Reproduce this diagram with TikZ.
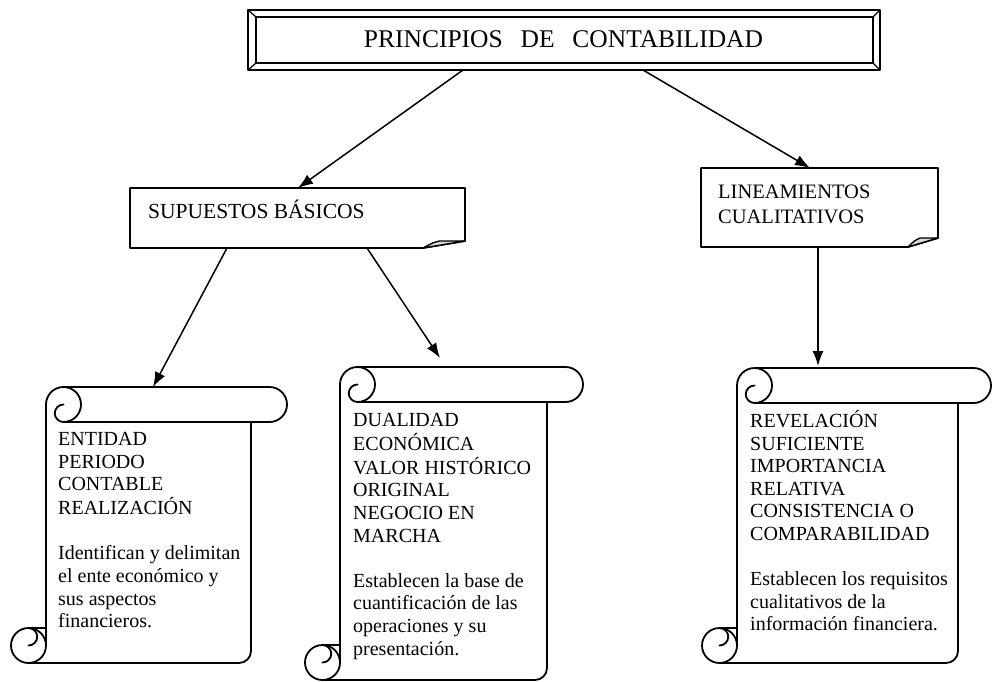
\documentclass[tikz,border=0pt]{standalone}
\usepackage{fontspec}
\setmainfont{Liberation Serif}
\usetikzlibrary{arrows.meta}
\tikzset{
  outline/.style={line width=1.8pt, line join=round, line cap=round},
  conn/.style={line width=1.5pt, -{Latex[length=15pt,width=11pt]}},
  bodytext/.style={anchor=base west, inner sep=0pt, font=\fontsize{20}{22.6}\selectfont},
}
\newcommand{\drawscroll}[6]{%
  \pgfmathsetmacro\scXL{#1}%
  \pgfmathsetmacro\scXR{#2}%
  \pgfmathsetmacro\scXE{#3}%
  \pgfmathsetmacro\scYT{#4}%
  \pgfmathsetmacro\scR{#5/2}%
  \pgfmathsetmacro\scYB{#6}%
  \pgfmathsetmacro\scK{0.5523*\scR}%
  \pgfmathsetmacro\scYM{\scYT+2*\scR}%
  \pgfmathsetmacro\scH{\scR/2}%
  \pgfmathsetmacro\scHK{0.5523*\scH}%
  \draw[outline] (\scXL+\scR,\scYT) -- (\scXE-\scR,\scYT)
    .. controls (\scXE-\scR+\scK,\scYT) and (\scXE,\scYT+\scR-\scK) .. (\scXE,\scYT+\scR)
    .. controls (\scXE,\scYT+\scR+\scK) and (\scXE-\scR+\scK,\scYM) .. (\scXE-\scR,\scYM)
    -- (\scXL+\scR,\scYM);
  \draw[outline] (\scXL+\scR,\scYT)
    .. controls (\scXL+\scR+\scK,\scYT) and (\scXL+2*\scR,\scYT+\scR-\scK) .. (\scXL+2*\scR,\scYT+\scR)
    .. controls (\scXL+2*\scR,\scYT+\scR+\scK) and (\scXL+\scR+\scK,\scYM) .. (\scXL+\scR,\scYM);
  \draw[outline] (\scXL+\scR,\scYT+\scR)
    .. controls (\scXL+\scR-\scHK,\scYT+\scR) and (\scXL+\scR-\scH,\scYT+1.5*\scR-\scHK) .. (\scXL+\scR-\scH,\scYT+1.5*\scR)
    .. controls (\scXL+\scR-\scH,\scYT+1.5*\scR+\scHK) and (\scXL+\scR-\scHK,\scYM) .. (\scXL+\scR,\scYM);
  \draw[outline] (\scXL+\scR,\scYT)
    .. controls (\scXL+\scR-\scK,\scYT) and (\scXL,\scYT+\scR-\scK) .. (\scXL,\scYT+\scR)
    -- (\scXL,\scYB-\scR);
  \draw[outline] (\scXR,\scYM) [rounded corners=12pt] -- (\scXR,\scYB) -- (\scXL-\scR,\scYB);
  \draw[outline] (\scXL-\scR,\scYB-\scR) circle[radius=\scR];
  \draw[outline] (\scXL-\scR,\scYB-2*\scR) -- (\scXL,\scYB-2*\scR);
  \draw[outline] (\scXL-\scR,\scYB-2*\scR)
    .. controls (\scXL-\scR+\scHK,\scYB-2*\scR) and (\scXL-\scH,\scYB-1.5*\scR-\scHK) .. (\scXL-\scH,\scYB-1.5*\scR)
    .. controls (\scXL-\scH,\scYB-1.5*\scR+\scHK) and (\scXL-\scR+\scHK,\scYB-\scR) .. (\scXL-\scR,\scYB-\scR);
}
\newcommand{\foldbox}[6]{%
  \draw[outline] (#1,#2) -- (#3,#2) -- (#3,#4-#6) -- (#3-#5,#4) -- (#1,#4) -- cycle;
  \draw[line width=1.4pt, line join=round, fill=black!15] (#3-#5,#4) .. controls (#3-#5+0.25*#5,#4-0.8*#6) .. (#3-#5+0.4*#5,#4-#6) -- (#3,#4-#6) -- cycle;
}
\begin{document}
\begin{tikzpicture}[x=1pt,y=-1pt]
\useasboundingbox (0,0) rectangle (993,682);

% title bevel box
\draw[outline] (248,10) rectangle (880,70);
\draw[line width=1.4pt] (256,17) rectangle (873,63);
\draw[line width=1.2pt] (248,10) -- (256,17) (880,10) -- (873,17) (248,70) -- (256,63) (880,70) -- (873,63);
\node[anchor=base, inner sep=0pt, font=\fontsize{25.5}{30}\selectfont] (title) at (563.5,48)
  {PRINCIPIOS\hspace{0.7em}DE\hspace{0.7em}CONTABILIDAD};

% second level boxes
\foldbox{130}{188}{465}{248}{42}{7}
\node[anchor=base west, inner sep=0pt, font=\fontsize{21.5}{25}\selectfont] (sup) at (148,218) {SUPUESTOS BÁSICOS};

\foldbox{701}{168}{938}{247}{30}{9}
\node[anchor=base west, inner sep=0pt, font=\fontsize{20.5}{25}\selectfont] (lin) at (718,198)
  {\begin{tabular}[t]{@{}l@{}}LINEAMIENTOS\\CUALITATIVOS\end{tabular}};

% scrolls
\drawscroll{46}{251}{287}{387}{35}{663}
\node[bodytext] (s1) at (58,445.5) {\begin{tabular}[t]{@{}l@{}}ENTIDAD\\PERIODO\\CONTABLE\\REALIZACIÓN\\ \\Identifican y delimitan\\el ente económico y\\sus aspectos\\financieros.\end{tabular}};

\drawscroll{340}{547}{583}{367}{35}{680}
\node[bodytext] (s2) at (353,426.5) {\begin{tabular}[t]{@{}l@{}}DUALIDAD\\ECONÓMICA\\VALOR HISTÓRICO\\ORIGINAL\\NEGOCIO EN\\MARCHA\\ \\Establecen la base de\\cuantificación de las\\operaciones y su\\presentación.\end{tabular}};

\drawscroll{737}{958}{991}{368}{35}{663}
\node[bodytext] (s3) at (750,427.5) {\begin{tabular}[t]{@{}l@{}}REVELACIÓN\\SUFICIENTE\\IMPORTANCIA\\RELATIVA\\CONSISTENCIA O\\COMPARABILIDAD\\ \\Establecen los requisitos\\cualitativos de la\\información financiera.\end{tabular}};

% connector endpoints
\coordinate (tA) at (463,70);
\coordinate (tB) at (643,70);
\coordinate (supTop) at (298,188);
\coordinate (linTop) at (810,168);
\coordinate (supB1) at (227,248);
\coordinate (supB2) at (367,248);
\coordinate (linB) at (818,247);
\coordinate (sc1) at (153,387);
\coordinate (sc2) at (440,358);
\coordinate (sc3) at (818,366);

\draw[conn] (tA) -- (supTop);
\draw[conn] (tB) -- (linTop);
\draw[conn] (supB1) -- (sc1);
\draw[conn] (supB2) -- (sc2);
\draw[conn] (linB) -- (sc3);
\end{tikzpicture}
\end{document}
